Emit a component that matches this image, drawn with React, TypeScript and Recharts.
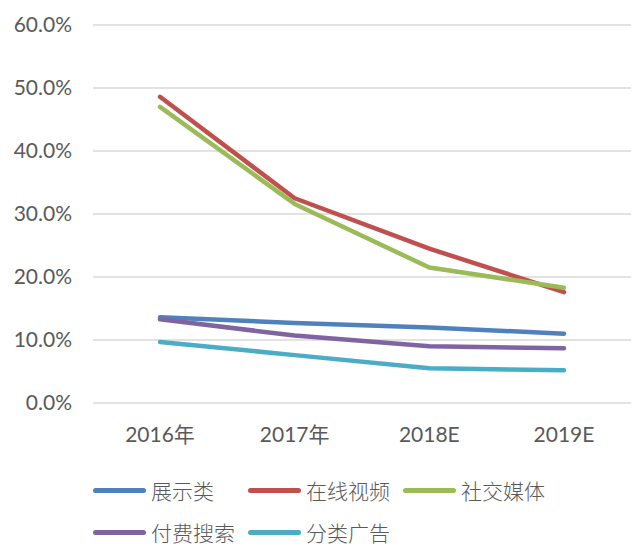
import { LineChart, Line, XAxis, YAxis, CartesianGrid } from "recharts";

const categories = ["2016年", "2017年", "2018E", "2019E"];
const seriesNames = ["展示类", "在线视频", "社交媒体", "付费搜索", "分类广告"];
const display = [0.136, 0.127, 0.12, 0.11];
const onlineVideo = [0.486, 0.325, 0.245, 0.176];
const socialMedia = [0.47, 0.316, 0.215, 0.183];
const paidSearch = [0.133, 0.107, 0.09, 0.087];
const classified = [0.097, 0.076, 0.055, 0.052];
const yTicks = [0, 0.1, 0.2, 0.3, 0.4, 0.5, 0.6];

const colors = ["#4F81BD", "#C0504D", "#9BBB59", "#8064A2", "#4BACC6"];
const allSeries = [display, onlineVideo, socialMedia, paidSearch, classified];

const data = categories.map((c, i) => {
  const row: Record<string, string | number> = { name: c };
  seriesNames.forEach((s, j) => {
    row[s] = allSeries[j][i];
  });
  return row;
});

const font = "Lato, 'Noto Sans CJK SC', sans-serif";

const legendRows = [
  [0, 1, 2],
  [3, 4],
];
const legendX = [93, 248, 403];

const App = () => {
  return (
    <div style={{ position: "absolute", left: 0, top: 0, width: 635, height: 546, background: "#fff", overflow: "hidden" }}>
      <LineChart width={635} height={546} data={data} margin={{ top: 25, right: 4, left: 0, bottom: 93 }}>
        <CartesianGrid vertical={false} stroke="#d9d9d9" strokeWidth={1.5} />
        <XAxis
          dataKey="name"
          axisLine={false}
          tickLine={false}
          tickMargin={18}
          height={50}
          padding={{ left: 67, right: 67 }}
          tick={{ fill: "#595959", fontSize: 21, fontFamily: font }}
        />
        <YAxis
          domain={[0, 0.6]}
          ticks={yTicks}
          width={93}
          axisLine={false}
          tickLine={false}
          tickMargin={15}
          tickFormatter={(v: number) => (v * 100).toFixed(1) + "%"}
          tick={{ fill: "#595959", fontSize: 21, fontFamily: font }}
        />
        {seriesNames.map((s, i) => (
          <Line
            key={s}
            type="linear"
            dataKey={s}
            stroke={colors[i]}
            strokeWidth={4.5}
            strokeLinecap="round"
            strokeLinejoin="round"
            dot={false}
            activeDot={false}
            isAnimationActive={false}
          />
        ))}
      </LineChart>
      {legendRows.map((row, r) =>
        row.map((idx, k) => (
          <div
            key={seriesNames[idx]}
            style={{
              position: "absolute",
              left: legendX[k],
              top: 478 + r * 42,
              height: 24,
              lineHeight: "24px",
              display: "flex",
              alignItems: "center",
              fontFamily: "'Noto Sans CJK SC', sans-serif",
              fontWeight: 300,
              fontSize: 21,
              color: "#595959",
            }}
          >
            <span
              style={{
                display: "inline-block",
                width: 53,
                height: 5,
                borderRadius: 3,
                background: colors[idx],
                marginRight: 5,
              }}
            />
            <span>{seriesNames[idx]}</span>
          </div>
        ))
      )}
    </div>
  );
};

export default App;
